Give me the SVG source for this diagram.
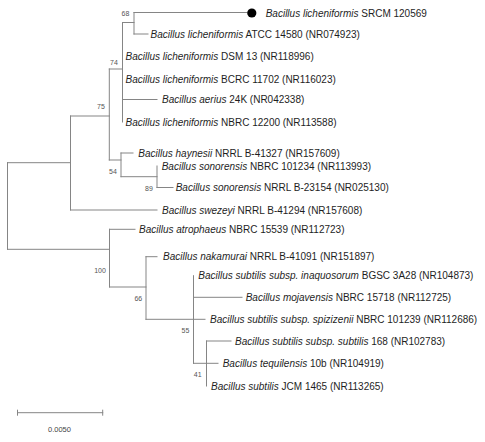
<svg xmlns="http://www.w3.org/2000/svg" width="485" height="442" viewBox="0 0 485 442">
<style>
.br{stroke:#858585;stroke-width:1;fill:none;stroke-linecap:square}
.lb{font-family:"Liberation Sans",Arial,sans-serif;font-size:10px;fill:#1e1e1e}
.sp{font-style:italic}
.bs{font-family:"Liberation Sans",Arial,sans-serif;font-size:7px;fill:#555;text-anchor:middle}
.sc{font-family:"Liberation Sans",Arial,sans-serif;font-size:7.5px;fill:#444;text-anchor:middle}
</style>
<rect width="485" height="442" fill="#fff"/>
<g id="connectors">
<path class="br" d="M7.5,162.7V249.3M7.5,162.7H70.5M70.5,116V210M70.5,116H109.3M70.5,210H157M109.3,69V160M109.3,69H122.5M122.5,22.5V122M122.5,22.5H134M134,12.5V34M134,12.5H247M134,34H148M122.5,99.5H157M109.3,160H121M121,153V176.7M121,153H133M121,176.7H157M157,166V187.5M157,187.5H173"/>
<path class="br" d="M7.5,249.3H109.5M109.5,229.3V287M109.5,229.3H135M109.5,287H146M146,256.7V319.3M146,256.7H157M146,319.3H205M193.5,275.7V363.3M193.5,297.3H242M193.5,363.3H218M206.5,341V386M206.5,341H231"/>
</g>
<g id="bootstrap">
<text class="bs" x="125.5" y="15.8">68</text>
<text class="bs" x="114" y="64.5">74</text>
<text class="bs" x="101" y="108.5">75</text>
<text class="bs" x="113" y="173.5">54</text>
<text class="bs" x="149" y="190.5">89</text>
<text class="bs" x="100" y="272.5">100</text>
<text class="bs" x="138.3" y="300.5">66</text>
<text class="bs" x="185.5" y="333.2">55</text>
<text class="bs" x="197.7" y="376.8">41</text>
</g>
<g id="n1"><circle cx="251.8" cy="13" r="4.6" fill="#000"/><text class="lb" x="265.7" y="16.5"><tspan class="sp">Bacillus licheniformis</tspan> SRCM 120569</text></g>
<g id="n2"><text class="lb" x="150.5" y="37.5"><tspan class="sp">Bacillus licheniformis</tspan> ATCC 14580 (NR074923)</text></g>
<g id="n3"><text class="lb" x="125.5" y="60.2"><tspan class="sp">Bacillus licheniformis</tspan> DSM 13 (NR118996)</text></g>
<g id="n4"><text class="lb" x="125.5" y="82.8"><tspan class="sp">Bacillus licheniformis</tspan> BCRC 11702 (NR116023)</text></g>
<g id="n5"><text class="lb" x="162" y="103"><tspan class="sp">Bacillus aerius</tspan> 24K (NR042338)</text></g>
<g id="n6"><text class="lb" x="125.5" y="125.8"><tspan class="sp">Bacillus licheniformis</tspan> NBRC 12200 (NR113588)</text></g>
<g id="n7"><text class="lb" x="138.3" y="156.5"><tspan class="sp">Bacillus haynesii</tspan> NRRL B-41327 (NR157609)</text></g>
<g id="n8"><text class="lb" x="161.7" y="169.8"><tspan class="sp">Bacillus sonorensis</tspan> NBRC 101234 (NR113993)</text></g>
<g id="n9"><text class="lb" x="175.7" y="191"><tspan class="sp">Bacillus sonorensis</tspan> NRRL B-23154 (NR025130)</text></g>
<g id="n10"><text class="lb" x="162" y="213.5"><tspan class="sp">Bacillus swezeyi</tspan> NRRL B-41294 (NR157608)</text></g>
<g id="n11"><text class="lb" x="139" y="232.8"><tspan class="sp">Bacillus atrophaeus</tspan> NBRC 15539 (NR112723)</text></g>
<g id="n12"><text class="lb" x="163" y="260.2"><tspan class="sp">Bacillus nakamurai</tspan> NRRL B-41091 (NR151897)</text></g>
<g id="n13"><text class="lb" x="198.3" y="279.2"><tspan class="sp">Bacillus subtilis subsp. inaquosorum</tspan> BGSC 3A28 (NR104873)</text></g>
<g id="n14"><text class="lb" x="245.7" y="300.8"><tspan class="sp">Bacillus mojavensis</tspan> NBRC 15718 (NR112725)</text></g>
<g id="n15"><text class="lb" x="210" y="322.8"><tspan class="sp">Bacillus subtilis subsp. spizizenii</tspan> NBRC 101239 (NR112686)</text></g>
<g id="n16"><text class="lb" x="235" y="344.5"><tspan class="sp">Bacillus subtilis subsp. subtilis</tspan> 168 (NR102783)</text></g>
<g id="n17"><text class="lb" x="222.7" y="366.8"><tspan class="sp">Bacillus tequilensis</tspan> 10b (NR104919)</text></g>
<g id="n18"><text class="lb" x="211" y="389.5"><tspan class="sp">Bacillus subtilis</tspan> JCM 1465 (NR113265)</text></g>
<g id="scalebar">
<path class="br" d="M17.5,412.7H102.7M17.5,410.2V415.2M102.7,410.2V415.2"/>
<text class="sc" x="59.5" y="432">0.0050</text>
</g>
</svg>
